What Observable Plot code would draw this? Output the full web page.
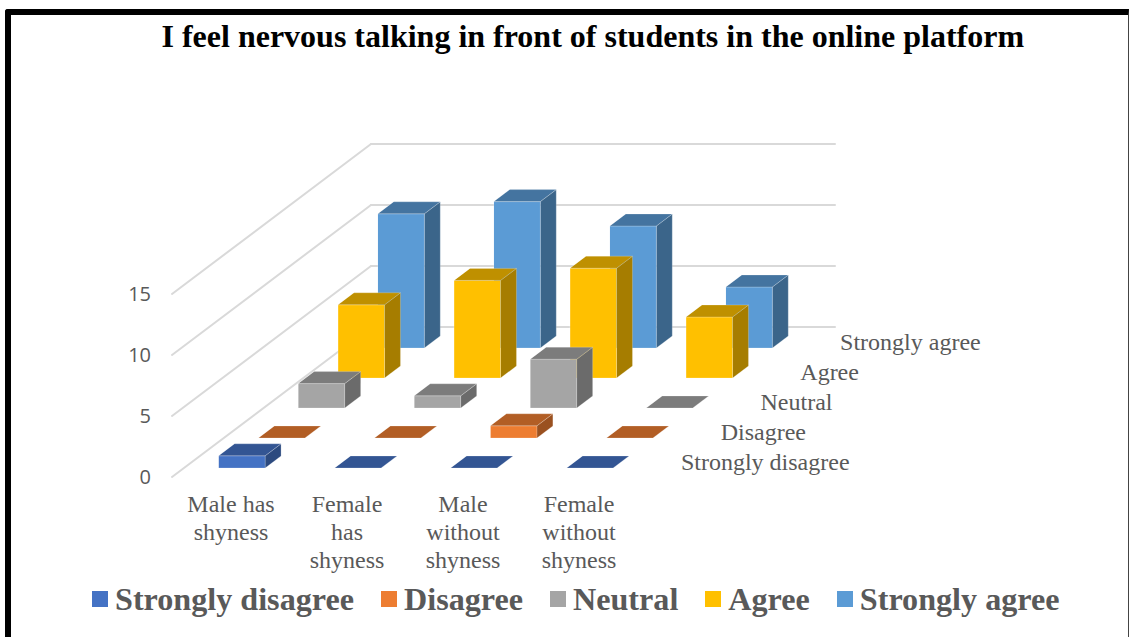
<!DOCTYPE html>
<html>
<head>
<meta charset="utf-8">
<script src="https://cdn.jsdelivr.net/npm/d3@7"></script>
<script src="https://cdn.jsdelivr.net/npm/@observablehq/plot@0.6"></script>
<style>
  html, body { margin: 0; padding: 0; background: #fff; }
  #chart { position: relative; width: 1131px; height: 637px; overflow: hidden; font-family: "Liberation Serif", serif; }
  #frame { position: absolute; left: 5px; top: 9px; width: 1124px; height: 640px; box-sizing: border-box;
           border-top: 6px solid #000; border-left: 6px solid #000; border-right: 1.5px solid #444; border-top-left-radius: 3px; }
  #title { position: relative; height: 60px; padding-top: 18px; box-sizing: border-box; padding-left: 161.5px;
           font: bold 32px/36px "Liberation Serif", serif; color: #000; white-space: nowrap; }
  #plot svg { display: block; }
  #legend { position: absolute; left: 92px; top: 579px; height: 40px; display: flex; align-items: center;
            font: bold 32.15px/40px "Liberation Serif", serif; color: #595959; white-space: nowrap; }
  #legend .item { display: flex; align-items: center; margin-right: 27px; }
  #legend .swatch { width: 16px; height: 16px; margin-right: 7px; }
</style>
</head>
<body>
<div id="chart">
  <div id="frame"></div>
  <div id="title"></div>
  <div id="plot"></div>
  <div id="legend"></div>
</div>
<script>
const titleText = "I feel nervous talking in front of students in the online platform";
const categories = ["Male has\nshyness", "Female\nhas\nshyness", "Male\nwithout\nshyness", "Female\nwithout\nshyness"];
const seriesNames = ["Strongly disagree", "Disagree", "Neutral", "Agree", "Strongly agree"];

// Responses per group, one array per answer
const stronglyDisagree = [1, 0, 0, 0];
const disagree = [0, 0, 1, 0];
const neutral = [2, 1, 4, 0];
const agree = [6, 8, 9, 5];
const stronglyAgree = [11, 12, 10, 5];

const seriesValues = [stronglyDisagree, disagree, neutral, agree, stronglyAgree];
const frontColors = ["#4472C4", "#ED7D31", "#A5A5A5", "#FFC000", "#5B9BD5"];
const topColors = ["#335593", "#B25E25", "#7C7C7C", "#BF9000", "#4474A0"];
const sideColors = ["#2C4A7F", "#9A5120", "#6B6B6B", "#A67D00", "#3B658A"];
const valueTicks = [0, 5, 10, 15];

// Oblique projection: each unit of depth shifts a point right and up
const depthToX = 39.8 / 116;
const depthToY = 30 / 12.2;
const projX = (c, d) => c + d * depthToX;
const projY = (v, d) => v + d * depthToY;

const pad = 0.3;
const size = 1 - 2 * pad;

// Faces are listed back to front so nearer columns paint over farther ones
const faces = [];
d3.range(seriesNames.length - 1, -1, -1).forEach((s) => {
  categories.forEach((_, c) => {
    const v = seriesValues[s][c];
    const c0 = c + pad, c1 = c0 + size, d0 = s + pad, d1 = d0 + size;
    const addFace = (name, fill, corners) =>
      corners.forEach(([cc, vv, dd]) =>
        faces.push({id: `${s}-${c}-${name}`, fill, x: projX(cc, dd), y: projY(vv, dd)}));
    if (v > 0) {
      addFace("side", sideColors[s], [[c1, 0, d0], [c1, 0, d1], [c1, v, d1], [c1, v, d0]]);
      addFace("front", frontColors[s], [[c0, 0, d0], [c1, 0, d0], [c1, v, d0], [c0, v, d0]]);
    }
    addFace("top", topColors[s], [[c0, v, d0], [c1, v, d0], [c1, v, d1], [c0, v, d1]]);
  });
});

// Wall and floor rules for every value tick
const depthMax = seriesNames.length, catMax = categories.length;
const rules = valueTicks.flatMap((v) => [
  {id: `${v}-side`, x: projX(0, 0), y: projY(v, 0)},
  {id: `${v}-side`, x: projX(0, depthMax), y: projY(v, depthMax)},
  {id: `${v}-back`, x: projX(0, depthMax), y: projY(v, depthMax)},
  {id: `${v}-back`, x: projX(catMax, depthMax), y: projY(v, depthMax)}
]);

const catLabels = categories.map((label, c) => ({label, x: projX(c + 0.5, 0), y: 0}));
const depthLabels = seriesNames.map((label, s) => ({label, x: projX(catMax, s + 0.5), y: projY(0, s + 0.5)}));

const svgHeight = 520, svgTop = 60, originX = 171.5, originY = 476.5;

const chart = Plot.plot({
  width: 1131,
  height: svgHeight,
  marginLeft: originX,
  marginRight: 0,
  marginTop: 0,
  marginBottom: svgTop + svgHeight - originY,
  style: {background: "transparent", overflow: "visible"},
  x: {domain: [0, (1131 - originX) / 116], axis: null},
  y: {domain: [0, (originY - svgTop) / 12.2], axis: null},
  marks: [
    Plot.line(rules, {x: "x", y: "y", z: "id", stroke: "#D9D9D9", strokeWidth: 2}),
    Plot.line(faces, {x: "x", y: "y", z: "id", fill: "fill", stroke: "#fff", strokeOpacity: 0.35, strokeWidth: 0.6, curve: "linear-closed"}),
    Plot.axisY({ticks: valueTicks, tickSize: 0, tickPadding: 21, dy: 1, label: null, fontFamily: "Open Sans", fontSize: 20, color: "#595959"}),
    Plot.text(catLabels, {x: "x", y: "y", text: "label", dx: 1, dy: 15, lineAnchor: "top", lineHeight: 1.167, fontFamily: "Liberation Serif", fontSize: 24, fill: "#595959"}),
    Plot.text(depthLabels, {x: "x", y: "y", text: "label", dx: 25, textAnchor: "start", fontFamily: "Liberation Serif", fontSize: 24, fill: "#595959"})
  ]
});

document.getElementById("title").textContent = titleText;
document.getElementById("plot").appendChild(chart);
const legend = d3.select("#legend");
seriesNames.forEach((name, s) => {
  const item = legend.append("div").attr("class", "item");
  item.append("div").attr("class", "swatch").style("background", frontColors[s]);
  item.append("span").text(name);
});
</script>
</body>
</html>
